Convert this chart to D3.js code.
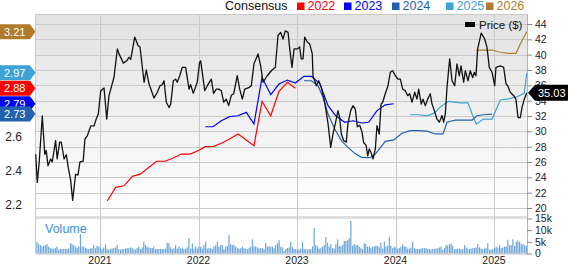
<!DOCTYPE html>
<html>
<head>
<meta charset="utf-8">
<script src="https://cdn.jsdelivr.net/npm/d3@7"></script>
<style>
  body { margin: 0; background: #fff; }
  text { font-family: "Liberation Sans", Arial, sans-serif; }
</style>
</head>
<body>
<div id="chart"></div>
<script>
// ---- data (dates as decimal years) ----
const years = [2021, 2022, 2023, 2024, 2025];
const priceTicks = [20, 22, 24, 26, 28, 30, 32, 34, 36, 38, 40, 42, 44];
const epsTicks = [2.2, 2.4, 2.6];   // higher ticks sit behind the value flags
const volTicks = [0, 5, 10, 15];
const volTickLabels = ["0", "5k", "10k", "15k"];
const seriesNames = ["2022", "2023", "2024", "2025", "2026"];

const price = [[2020.347,27.0],[2020.363,23.35],[2020.381,25.7],[2020.414,32.0],[2020.439,27.0],[2020.454,27.5],[2020.472,25.5],[2020.499,26.4],[2020.515,26.0],[2020.549,28.8],[2020.565,26.4],[2020.590,28.6],[2020.606,28.6],[2020.635,26.4],[2020.658,26.95],[2020.677,25.3],[2020.702,23.6],[2020.722,21.0],[2020.752,24.4],[2020.776,24.3],[2020.796,26.0],[2020.829,26.1],[2020.847,29.0],[2020.870,29.4],[2020.906,30.7],[2020.939,30.7],[2020.956,31.4],[2020.983,32.3],[2021.007,35.3],[2021.041,35.65],[2021.068,31.6],[2021.091,34.65],[2021.142,37.05],[2021.176,40.75],[2021.193,40.1],[2021.237,38.9],[2021.271,39.2],[2021.294,39.65],[2021.312,39.4],[2021.352,42.3],[2021.386,41.2],[2021.406,41.0],[2021.447,36.4],[2021.470,38.0],[2021.497,36.2],[2021.548,34.35],[2021.582,35.1],[2021.609,35.95],[2021.632,36.1],[2021.650,36.6],[2021.673,33.8],[2021.701,33.1],[2021.718,33.55],[2021.744,36.6],[2021.768,36.8],[2021.784,36.4],[2021.809,37.25],[2021.835,38.35],[2021.869,38.35],[2021.904,35.5],[2021.920,36.1],[2021.947,34.95],[2021.987,36.4],[2022.011,39.0],[2022.022,39.2],[2022.063,35.3],[2022.089,35.95],[2022.130,36.8],[2022.153,34.95],[2022.181,35.5],[2022.205,35.5],[2022.231,35.3],[2022.256,33.8],[2022.282,34.2],[2022.306,33.35],[2022.333,34.7],[2022.357,34.9],[2022.393,37.25],[2022.418,35.5],[2022.445,34.2],[2022.469,35.5],[2022.510,35.7],[2022.536,35.95],[2022.563,38.8],[2022.604,40.1],[2022.631,38.55],[2022.655,36.4],[2022.698,37.25],[2022.739,37.9],[2022.780,38.35],[2022.807,42.5],[2022.834,42.9],[2022.858,42.05],[2022.881,43.1],[2022.909,42.9],[2022.926,40.75],[2022.949,38.35],[2022.970,40.75],[2023.003,40.75],[2023.027,41.0],[2023.043,39.45],[2023.061,39.45],[2023.078,42.3],[2023.104,41.65],[2023.129,41.4],[2023.155,40.1],[2023.162,37.25],[2023.180,36.6],[2023.196,35.95],[2023.220,36.6],[2023.247,35.7],[2023.281,33.8],[2023.315,31.0],[2023.342,27.9],[2023.365,29.65],[2023.389,31.0],[2023.416,32.7],[2023.433,31.8],[2023.450,29.65],[2023.473,28.8],[2023.500,28.6],[2023.517,31.0],[2023.545,32.7],[2023.569,33.35],[2023.592,32.9],[2023.612,30.6],[2023.637,30.8],[2023.660,29.9],[2023.677,28.5],[2023.701,28.2],[2023.718,26.8],[2023.734,27.7],[2023.751,27.25],[2023.772,26.4],[2023.795,27.7],[2023.812,30.75],[2023.835,29.65],[2023.853,33.55],[2023.870,33.8],[2023.896,34.9],[2023.924,35.95],[2023.947,37.7],[2023.971,37.9],[2023.998,37.25],[2024.025,36.8],[2024.049,36.8],[2024.073,35.5],[2024.099,35.3],[2024.124,34.65],[2024.144,34.9],[2024.168,33.8],[2024.195,35.1],[2024.218,34.2],[2024.235,35.5],[2024.262,33.55],[2024.279,34.2],[2024.302,33.35],[2024.327,34.2],[2024.353,34.9],[2024.371,33.55],[2024.394,32.7],[2024.421,31.6],[2024.445,31.2],[2024.472,32.05],[2024.489,31.2],[2024.506,32.3],[2024.523,35.75],[2024.550,39.45],[2024.574,36.6],[2024.601,35.95],[2024.624,38.8],[2024.648,37.25],[2024.665,38.55],[2024.692,36.4],[2024.709,37.9],[2024.736,36.6],[2024.759,37.9],[2024.784,37.0],[2024.800,37.7],[2024.817,37.25],[2024.834,40.75],[2024.870,42.8],[2024.905,42.05],[2024.929,40.95],[2024.952,38.35],[2024.980,37.7],[2025.007,35.95],[2025.020,38.35],[2025.064,38.55],[2025.098,38.35],[2025.122,36.2],[2025.139,35.95],[2025.165,35.1],[2025.200,34.65],[2025.222,34.2],[2025.244,31.8],[2025.267,31.8],[2025.284,33.1],[2025.307,34.2],[2025.333,35.03]];

const eps2022 = [[2021.074,2.225],[2021.159,2.303],[2021.244,2.312],[2021.328,2.367],[2021.412,2.381],[2021.497,2.42],[2021.575,2.455],[2021.660,2.455],[2021.744,2.474],[2021.825,2.497],[2021.914,2.497],[2021.995,2.516],[2022.069,2.54],[2022.147,2.54],[2022.231,2.56],[2022.316,2.585],[2022.401,2.614],[2022.485,2.579],[2022.563,2.546],[2022.645,2.804],[2022.733,2.72],[2022.817,2.863],[2022.902,2.915],[2022.983,2.88]];

const eps2023 = [[2022.069,2.656],[2022.147,2.656],[2022.231,2.691],[2022.316,2.715],[2022.401,2.72],[2022.485,2.74],[2022.563,2.672],[2022.645,2.944],[2022.733,2.843],[2022.817,2.905],[2022.902,2.928],[2022.983,2.911],[2023.071,2.95],[2023.145,2.95],[2023.230,2.909],[2023.315,2.779],[2023.393,2.72],[2023.484,2.682],[2023.569,2.691],[2023.660,2.678],[2023.728,2.682],[2023.812,2.75],[2023.896,2.784],[2023.982,2.79]];

const eps2024 = [[2023.071,2.924],[2023.145,2.924],[2023.213,2.895],[2023.264,2.828],[2023.315,2.73],[2023.383,2.643],[2023.450,2.575],[2023.518,2.536],[2023.586,2.501],[2023.652,2.478],[2023.741,2.476],[2023.795,2.497],[2023.896,2.571],[2023.982,2.579],[2024.066,2.618],[2024.150,2.633],[2024.235,2.633],[2024.320,2.63],[2024.404,2.614],[2024.482,2.614],[2024.523,2.682],[2024.607,2.695],[2024.692,2.695],[2024.777,2.695],[2024.827,2.72],[2024.894,2.726],[2024.980,2.73]];

const eps2025 = [[2024.150,2.726],[2024.235,2.726],[2024.320,2.72],[2024.388,2.734],[2024.472,2.779],[2024.540,2.804],[2024.591,2.80],[2024.658,2.795],[2024.736,2.795],[2024.777,2.73],[2024.820,2.672],[2024.894,2.701],[2024.980,2.701],[2025.064,2.812],[2025.148,2.818],[2025.234,2.831],[2025.307,2.851],[2025.333,2.97]];

const eps2026 = [[2024.820,3.103],[2024.894,3.103],[2024.980,3.103],[2025.064,3.09],[2025.148,3.084],[2025.223,3.084],[2025.267,3.138],[2025.333,3.21]];

// weekly volume, thousands
const volume = [5.0,4.0,3.6,3.0,3.3,3.6,4.0,3.0,2.3,2.1,2.1,2.3,2.9,1.6,1.9,1.9,1.9,1.9,1.9,2.1,4.4,4.0,3.6,3.0,2.4,3.0,8.3,3.0,3.0,2.4,2.1,1.9,2.1,2.3,3.6,2.3,3.3,3.0,2.6,1.9,2.6,4.0,1.9,1.6,1.9,2.1,2.3,2.6,3.7,1.9,1.6,1.9,1.9,2.1,2.3,2.3,2.6,2.3,1.9,1.6,2.3,2.9,1.9,2.6,5.0,3.6,2.9,2.6,2.3,2.3,3.0,1.9,1.9,1.9,1.9,1.9,1.9,2.1,4.7,4.4,2.6,1.9,2.3,3.6,2.1,3.0,2.1,2.6,1.9,2.1,2.6,6.6,2.1,4.4,2.1,3.0,2.1,
  3.0,2.9,2.1,3.6,5.0,2.1,2.3,2.3,1.9,3.0,3.6,5.1,2.9,3.6,3.6,1.9,2.9,3.3,7.9,4.0,3.6,3.6,2.9,2.3,2.1,2.3,3.0,2.3,2.1,1.9,2.3,2.9,6.1,3.0,3.0,2.6,2.1,2.3,2.3,1.9,4.4,2.9,3.0,3.0,2.9,2.3,3.6,4.4,5.7,2.9,2.6,1.1,1.9,2.3,2.6,5.0,2.6,1.9,1.9,1.9,1.6,2.1,5.0,1.9,1.9,1.6,1.9,1.9,3.0,10.9,3.6,3.0,2.1,2.3,2.9,3.6,7.1,4.7,2.9,4.0,2.3,2.1,4.0,6.1,3.3,3.0,3.6,5.4,5.4,5.7,6.6,14.0,3.3,4.0,3.6,3.6,2.9,2.3,
  1.9,4.4,4.0,2.9,3.0,2.3,2.9,3.0,3.3,3.3,2.6,4.7,2.1,5.1,2.9,3.3,7.1,3.3,2.3,2.9,2.6,2.1,2.3,2.9,4.0,3.0,3.0,2.1,2.1,2.6,5.0,2.3,1.9,1.9,1.9,2.1,2.3,2.3,2.3,1.9,1.9,1.6,1.9,1.9,2.1,2.3,2.6,3.0,1.6,2.3,3.6,3.6,4.0,4.3,3.3,1.9,1.9,2.1,2.1,1.6,1.9,3.6,2.6,2.1,1.9,2.1,2.3,2.3,2.6,4.0,2.6,2.1,1.9,2.1,2.3,4.4,1.6,1.6,1.9,2.3,2.9,2.6,3.6,2.3,2.6,3.0,3.0,5.9,3.6,3.6,6.1,3.3,5.0,5.7,5.1,4.0,4.0,3.6,3.3];

const series = [eps2022, eps2023, eps2024, eps2025, eps2026];
const lastPrice = price[price.length - 1][1];

// ---- layout / style ----
const width = 568, height = 264;
const plotLeft = 36, plotRight = 527, plotTop = 14, mainBottom = 216, volTop = 219, volBottom = 253.5;
const colors = ["#ff0000", "#0000ff", "#1f62b0", "#3ea3d4", "#b07c2c"];
const gridColor = "#cacaca";

const svg = d3.select("#chart").append("svg")
    .attr("width", width)
    .attr("height", height);

const defs = svg.append("defs");
const bg = defs.append("linearGradient").attr("id", "bgGrad")
    .attr("x1", 0).attr("y1", 0).attr("x2", 0).attr("y2", 1);
bg.append("stop").attr("offset", "0%").attr("stop-color", "#e2e2e2");
bg.append("stop").attr("offset", "100%").attr("stop-color", "#ffffff");
const vg = defs.append("linearGradient").attr("id", "volGrad")
    .attr("x1", 0).attr("y1", 0).attr("x2", 1).attr("y2", 0);
vg.append("stop").attr("offset", "0%").attr("stop-color", "#3c86c9");
vg.append("stop").attr("offset", "100%").attr("stop-color", "#a9cdee");

// scales
let x = d3.scaleLinear().domain([2020.35, 2025.335]).range([plotLeft, plotRight]);
let yPrice = d3.scaleLinear().domain([20, 44]).range([208, 24]);
let yEps = d3.scaleLinear().domain([2.2, 3.2]).range([205, 33.4]);
let yVol = d3.scaleLinear().domain([0, 15]).range([volBottom, 218.5]);
let xVol = d3.scaleBand().domain(d3.range(volume.length)).range([plotLeft + 0.5, plotRight]).paddingInner(0.25);

// backgrounds
svg.append("rect").attr("x", plotLeft).attr("y", plotTop)
    .attr("width", plotRight - plotLeft).attr("height", mainBottom - plotTop)
    .attr("fill", "url(#bgGrad)");
svg.append("rect").attr("x", plotLeft).attr("y", mainBottom)
    .attr("width", plotRight - plotLeft).attr("height", volTop - mainBottom)
    .attr("fill", "#e0e0e0");

// grid
svg.append("g").selectAll("line")
    .data(priceTicks)
    .enter().append("line")
    .attr("x1", plotLeft).attr("x2", plotRight)
    .attr("y1", d => Math.round(yPrice(d)) + 0.5)
    .attr("y2", d => Math.round(yPrice(d)) + 0.5)
    .attr("stroke", gridColor);
svg.append("line")
    .attr("x1", plotLeft).attr("x2", plotRight).attr("y1", plotTop + 0.5).attr("y2", plotTop + 0.5)
    .attr("stroke", gridColor);
svg.append("g").selectAll("line")
    .data(years)
    .enter().append("line")
    .attr("x1", d => Math.round(x(d)) + 0.5).attr("x2", d => Math.round(x(d)) + 0.5)
    .attr("y1", plotTop).attr("y2", volBottom)
    .attr("stroke", gridColor);
svg.append("line")
    .attr("x1", plotLeft - 0.5).attr("x2", plotLeft - 0.5).attr("y1", plotTop).attr("y2", volBottom)
    .attr("stroke", gridColor);

// volume bars
svg.append("g").selectAll("rect")
    .data(volume)
    .enter().append("rect")
    .attr("x", (d, i) => xVol(i))
    .attr("width", xVol.bandwidth())
    .attr("y", d => yVol(d))
    .attr("height", d => yVol(0) - yVol(d))
    .attr("fill", "url(#volGrad)");

svg.append("line")
    .attr("x1", plotLeft).attr("x2", plotRight).attr("y1", volBottom + 0.5).attr("y2", volBottom + 0.5)
    .attr("stroke", "#bdbdbd");

svg.append("text")
    .attr("x", 45).attr("y", 233)
    .attr("font-size", 12.5)
    .attr("fill", "#3d8dcf")
    .text("Volume");

// consensus lines
let epsLine = d3.line()
    .x(d => x(d[0]))
    .y(d => yEps(d[1]));

series.forEach((s, i) => {
    svg.append("path")
        .datum(s)
        .attr("fill", "none")
        .attr("stroke", colors[i])
        .attr("stroke-width", 1.2)
        .attr("d", epsLine);
});

// price line
let priceLine = d3.line()
    .x(d => x(d[0]))
    .y(d => yPrice(d[1]));

svg.append("path")
    .datum(price)
    .attr("fill", "none")
    .attr("stroke", "#111")
    .attr("stroke-width", 1.3)
    .attr("stroke-linejoin", "round")
    .attr("d", priceLine);

// right axes
svg.append("line")
    .attr("x1", plotRight + 0.5).attr("x2", plotRight + 0.5).attr("y1", plotTop).attr("y2", volBottom + 1)
    .attr("stroke", "#b5b5b5");

let rightAxis = svg.append("g")
    .attr("transform", `translate(${plotRight},0)`)
    .call(d3.axisRight(yPrice).tickValues(priceTicks).tickSize(5).tickPadding(3));
let volAxis = svg.append("g")
    .attr("transform", `translate(${plotRight},0)`)
    .call(d3.axisRight(yVol).tickValues(volTicks).tickSize(5).tickPadding(3)
        .tickFormat((d, i) => volTickLabels[i]));
[rightAxis, volAxis].forEach(g => {
    g.select(".domain").remove();
    g.selectAll(".tick line").attr("stroke", "#888");
    g.selectAll(".tick text").attr("font-size", 10.5).attr("fill", "#222")
        .style("font-family", '"Liberation Sans", Arial, sans-serif');
});

// left EPS axis
let leftAxis = svg.append("g")
    .attr("transform", "translate(22,0)")
    .call(d3.axisLeft(yEps).tickValues(epsTicks).tickSize(0).tickPadding(0)
        .tickFormat(d3.format(".1f")));
leftAxis.select(".domain").remove();
leftAxis.selectAll(".tick text").attr("font-size", 12).attr("fill", "#222")
    .style("font-family", '"Liberation Sans", Arial, sans-serif');

// bottom year labels
svg.append("g").selectAll("text")
    .data(years)
    .enter().append("text")
    .attr("x", d => x(d))
    .attr("y", 263.5)
    .attr("text-anchor", "middle")
    .attr("font-size", 10.5)
    .attr("fill", "#222")
    .text(d => d);

// left value flags
const flagOrder = [4, 3, 0, 1, 2];
flagOrder.forEach(i => {
    const s = series[i];
    const v = s[s.length - 1][1];
    const y = yEps(v);
    svg.append("path")
        .attr("d", `M0,${y - 7.5}H30L35.5,${y}L30,${y + 7.5}H0Z`)
        .attr("fill", colors[i]);
    svg.append("text")
        .attr("x", 4).attr("y", y)
        .attr("dy", "0.36em")
        .attr("font-size", 11)
        .attr("fill", "#fff")
        .text(d3.format(".2f")(v));
});

// price flag
const py = yPrice(lastPrice);
svg.append("path")
    .attr("d", `M${plotRight + 1},${py}L${plotRight + 8},${py - 8}H568V${py + 8}H${plotRight + 8}Z`)
    .attr("fill", "#000");
svg.append("text")
    .attr("x", 538).attr("y", py).attr("dy", "0.36em")
    .attr("font-size", 11).attr("fill", "#fff")
    .text(d3.format(".2f")(lastPrice));

// price legend
svg.append("rect").attr("x", 465).attr("y", 22).attr("width", 10).attr("height", 5).attr("fill", "#000");
svg.append("text").attr("x", 479).attr("y", 29).attr("font-size", 11.5).attr("fill", "#111").text("Price ($)");

// consensus legend
svg.append("text").attr("x", 225).attr("y", 10).attr("font-size", 12.5).attr("fill", "#111").text("Consensus");
const legendX = [297, 344, 392, 446, 486];
seriesNames.forEach((name, i) => {
    svg.append("rect")
        .attr("x", legendX[i]).attr("y", 2.5).attr("width", 7.5).attr("height", 7.5)
        .attr("fill", colors[i]);
    svg.append("text")
        .attr("x", legendX[i] + 10.5).attr("y", 10)
        .attr("font-size", 12.5)
        .attr("fill", colors[i])
        .text(name);
});
</script>
</body>
</html>
